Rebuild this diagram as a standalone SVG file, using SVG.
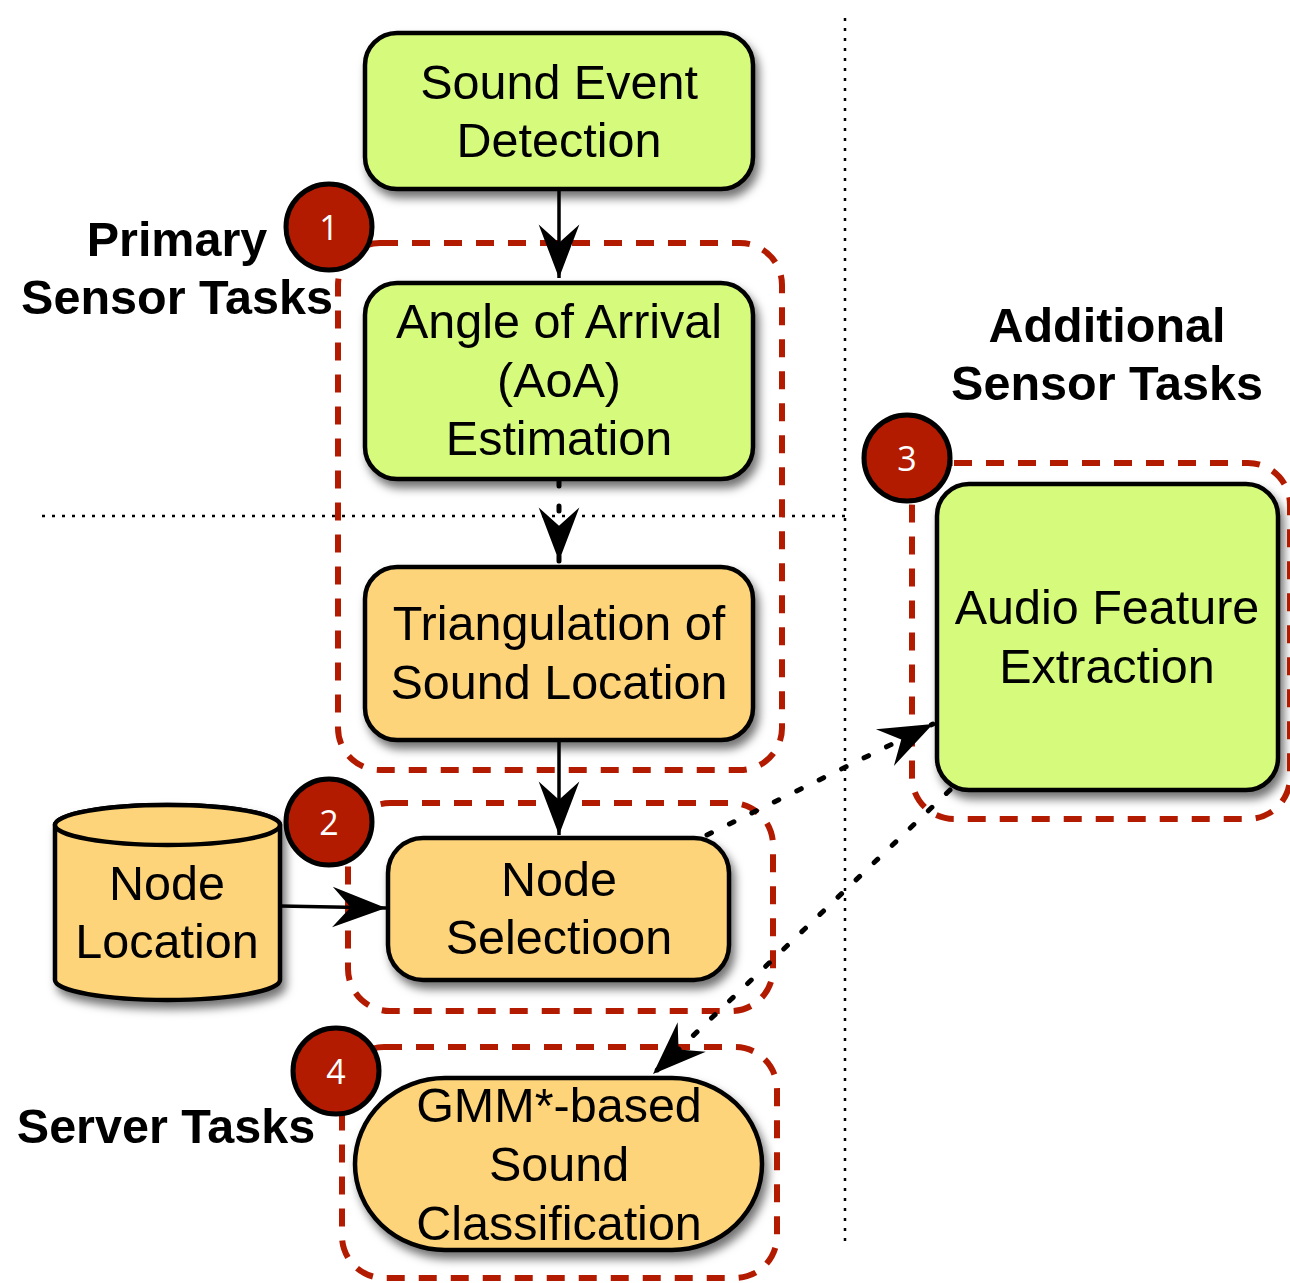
<svg xmlns="http://www.w3.org/2000/svg" width="1290" height="1283" viewBox="0 0 1290 1283">
<defs>
<filter id="sh" x="-20%" y="-20%" width="140%" height="150%">
<feDropShadow dx="4" dy="7" stdDeviation="5" flood-color="#000" flood-opacity="0.55"/>
</filter>
<marker id="ah" markerUnits="userSpaceOnUse" markerWidth="60" markerHeight="50" viewBox="-52 -22 56 44" refX="0" refY="0" orient="auto">
<path d="M0,0 L-50,-19 L-33,0 L-50,19 Z" fill="#000"/>
</marker>
</defs>
<style>
.green{fill:#d5fa7b;stroke:#000;stroke-width:4.5}
.orange{fill:#fed47a;stroke:#000;stroke-width:4.5}
.grp{fill:none;stroke:#b31b00;stroke-width:6;stroke-dasharray:18 14}
.t{font-family:"Liberation Sans",Arial,sans-serif;font-size:48.5px;fill:#000;text-anchor:middle}
.b{font-family:"Liberation Sans",Arial,sans-serif;font-size:48.5px;font-weight:bold;fill:#000;text-anchor:middle}
.badge{fill:#b31b00;stroke:#000;stroke-width:5}
.num{font-family:"Open Sans","DejaVu Sans",sans-serif;font-size:34px;fill:#fff;text-anchor:middle}
.solid{fill:none;stroke:#000;stroke-width:3.5}
.dot{fill:none;stroke:#000;stroke-width:5;stroke-dasharray:5 20;stroke-linecap:round}
.div{fill:none;stroke:#000;stroke-width:2.5;stroke-dasharray:3 7}
</style>

<g id="dividers">
<line class="div" x1="845" y1="18" x2="845" y2="1245"/>
<line class="div" x1="42" y1="516" x2="845" y2="516"/>
</g>

<g id="labels">
<text class="b" x="177" y="256">Primary</text>
<text class="b" x="177" y="314">Sensor Tasks</text>
<text class="b" x="1107" y="342">Additional</text>
<text class="b" x="1107" y="400">Sensor Tasks</text>
<text class="b" x="166" y="1143">Server Tasks</text>
</g>

<g id="node-sed">
<rect class="green" x="365" y="33" width="388" height="156" rx="32" filter="url(#sh)"/>
<text class="t" x="559" y="99">Sound Event</text>
<text class="t" x="559" y="157">Detection</text>
</g>
<g id="node-aoa">
<rect class="green" x="365" y="283" width="388" height="196" rx="32" filter="url(#sh)"/>
<text class="t" x="559" y="338">Angle of Arrival</text>
<text class="t" x="559" y="397">(AoA)</text>
<text class="t" x="559" y="455">Estimation</text>
</g>
<g id="node-tri">
<rect class="orange" x="365" y="567" width="388" height="173" rx="32" filter="url(#sh)"/>
<text class="t" x="559" y="640">Triangulation of</text>
<text class="t" x="559" y="699">Sound Location</text>
</g>
<g id="node-sel">
<rect class="orange" x="388" y="838" width="341" height="142" rx="35" filter="url(#sh)"/>
<text class="t" x="559" y="896">Node</text>
<text class="t" x="559" y="954">Selectioon</text>
</g>
<g id="node-loc">
<path class="orange" d="M55,825 L55,980 A112.5,20 0 0 0 280,980 L280,825 A112.5,20 0 0 0 55,825 Z" filter="url(#sh)"/>
<ellipse cx="167.5" cy="825" rx="112.5" ry="20" fill="#fed47a" stroke="#000" stroke-width="4.5"/>
<text class="t" x="167" y="900">Node</text>
<text class="t" x="167" y="958">Location</text>
</g>
<g id="node-gmm">
<rect class="orange" x="355" y="1078" width="407" height="172" rx="90" ry="86" filter="url(#sh)"/>
<text class="t" x="559" y="1122">GMM*-based</text>
<text class="t" x="559" y="1181">Sound</text>
<text class="t" x="559" y="1240">Classification</text>
</g>
<g id="node-afe">
<rect class="green" x="937" y="484" width="341" height="306" rx="32" filter="url(#sh)"/>
<text class="t" x="1107" y="624">Audio Feature</text>
<text class="t" x="1107" y="683">Extraction</text>
</g>

<g id="groups">
<rect class="grp" x="338" y="243" width="444" height="527" rx="42"/>
<rect class="grp" x="348" y="803" width="425" height="208" rx="42"/>
<rect class="grp" x="912" y="463" width="378" height="356" rx="42"/>
<rect class="grp" x="342" y="1047" width="435" height="231" rx="42"/>
</g>

<g id="connectors">
<line class="solid" x1="559" y1="189" x2="559" y2="278" marker-end="url(#ah)"/>
<line class="dot" x1="559" y1="481" x2="559" y2="561" marker-end="url(#ah)" stroke-dasharray="7 23"/>
<line class="solid" x1="559" y1="740" x2="559" y2="835" marker-end="url(#ah)"/>
<line class="solid" x1="280" y1="906" x2="386" y2="908" marker-end="url(#ah)"/>
<line class="dot" x1="707" y1="835" x2="933" y2="724" marker-end="url(#ah)"/>
<line class="dot" x1="950" y1="790" x2="653" y2="1074" marker-end="url(#ah)"/>
</g>

<g id="badge-1">
<circle class="badge" cx="329" cy="227" r="43"/>
<text class="num" x="329" y="240">1</text>
</g>
<g id="badge-2">
<circle class="badge" cx="329" cy="822" r="43"/>
<text class="num" x="329" y="835">2</text>
</g>
<g id="badge-3">
<circle class="badge" cx="907" cy="458" r="43"/>
<text class="num" x="907" y="471">3</text>
</g>
<g id="badge-4">
<circle class="badge" cx="336" cy="1071" r="43"/>
<text class="num" x="336" y="1084">4</text>
</g>
</svg>
